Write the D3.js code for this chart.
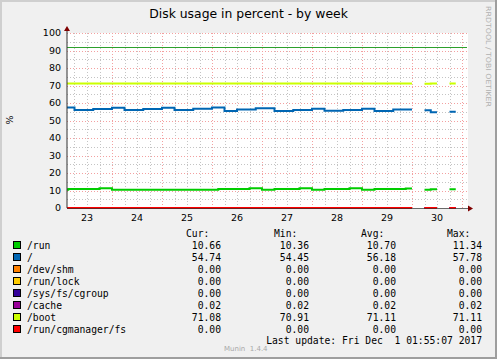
<!DOCTYPE html>
<html>
<head>
<meta charset="utf-8">
<script src="https://cdn.jsdelivr.net/npm/d3@7"></script>
<style>
  body { margin: 0; background: #f0f0f0; }
  svg { display: block; }
  .lbl { font-family: "DejaVu Sans", sans-serif; fill: #000; }
  .mono { font-family: "DejaVu Sans Mono", monospace; font-size: 9.7px; fill: #000; }
</style>
</head>
<body>
<svg id="chart" width="497" height="359"></svg>
<script>
// samples every 3 hours starting Thu Nov 23 2017 00:00
const sampleStart = Date.UTC(2017, 10, 23, 0, 0);
const stepHours = 3;

const names = ["/run", "/", "/dev/shm", "/run/lock", "/sys/fs/cgroup", "/cache", "/boot", "/run/cgmanager/fs"];
const colors = ["#00cc00", "#0066b3", "#ff8000", "#ffcc00", "#330099", "#990099", "#ccff00", "#ff0000"];
const curVals = ["10.66", "54.74", "0.00", "0.00", "0.00", "0.02", "71.08", "0.00"];
const minVals = ["10.36", "54.45", "0.00", "0.00", "0.00", "0.02", "70.91", "0.00"];
const avgVals = ["10.70", "56.18", "0.00", "0.00", "0.00", "0.02", "71.11", "0.00"];
const maxVals = ["11.34", "57.78", "0.00", "0.00", "0.00", "0.02", "71.11", "0.00"];

const runVals = [
  10.4, 10.8, 10.8, 10.8, 10.8, 10.8, 11.3, 11.3,
  10.4, 10.4, 10.4, 10.4, 10.4, 10.4, 10.4, 10.4,
  10.4, 10.4, 10.4, 10.4, 10.4, 10.4, 10.4, 10.4,
  10.4, 10.8, 10.8, 10.8, 10.8, 10.8, 11.3, 11.3,
  10.4, 10.4, 10.8, 10.8, 10.8, 10.8, 11.3, 11.3,
  10.4, 10.4, 10.8, 10.8, 10.8, 10.8, 11.3, 11.3,
  10.4, 10.4, 10.8, 10.8, 10.8, 10.8, 10.8, 11.2,
  null, null, 10.4, 10.7, null, null, 10.7, null
];
const rootVals = [
  57.5, 57.5, 56.0, 56.0, 56.0, 56.6, 56.6, 56.6,
  57.3, 57.3, 56.0, 56.0, 56.0, 56.6, 56.6, 56.6,
  57.3, 57.3, 56.0, 56.0, 56.0, 56.7, 56.7, 56.7,
  57.5, 57.5, 55.4, 55.4, 56.3, 56.3, 56.3, 57.0,
  57.0, 57.0, 55.4, 55.4, 55.4, 56.0, 56.0, 56.0,
  56.7, 56.7, 55.6, 55.6, 55.6, 56.0, 56.0, 56.0,
  56.7, 56.7, 55.4, 55.4, 55.4, 56.3, 56.3, 56.3,
  null, null, 55.8, 54.7, null, null, 55.0, null
];
const bootVals = [
  71.1, 71.1, 71.1, 71.1, 71.1, 71.1, 71.1, 71.1,
  71.1, 71.1, 71.1, 71.1, 71.1, 71.1, 71.1, 71.1,
  71.1, 71.1, 71.1, 71.1, 71.1, 71.1, 71.1, 71.1,
  71.1, 71.1, 71.1, 71.1, 71.1, 71.1, 71.1, 71.1,
  71.1, 71.1, 71.1, 71.1, 71.1, 71.1, 71.1, 71.1,
  71.1, 71.1, 71.1, 71.1, 71.1, 71.1, 71.1, 71.1,
  71.1, 71.1, 71.1, 71.1, 71.1, 71.1, 71.1, 71.1,
  null, null, 71.0, 71.1, null, null, 71.1, null
];
const cacheVals = [
  0.02, 0.02, 0.02, 0.02, 0.02, 0.02, 0.02, 0.02,
  0.02, 0.02, 0.02, 0.02, 0.02, 0.02, 0.02, 0.02,
  0.02, 0.02, 0.02, 0.02, 0.02, 0.02, 0.02, 0.02,
  0.02, 0.02, 0.02, 0.02, 0.02, 0.02, 0.02, 0.02,
  0.02, 0.02, 0.02, 0.02, 0.02, 0.02, 0.02, 0.02,
  0.02, 0.02, 0.02, 0.02, 0.02, 0.02, 0.02, 0.02,
  0.02, 0.02, 0.02, 0.02, 0.02, 0.02, 0.02, 0.02,
  null, null, 0.02, 0.02, null, null, 0.02, null
];
// /dev/shm, /run/lock, /sys/fs/cgroup, /run/cgmanager/fs all read 0
const zeroVals = [
  0, 0, 0, 0, 0, 0, 0, 0,
  0, 0, 0, 0, 0, 0, 0, 0,
  0, 0, 0, 0, 0, 0, 0, 0,
  0, 0, 0, 0, 0, 0, 0, 0,
  0, 0, 0, 0, 0, 0, 0, 0,
  0, 0, 0, 0, 0, 0, 0, 0,
  0, 0, 0, 0, 0, 0, 0, 0,
  null, null, 0, 0, null, null, 0, null
];
const seriesVals = [runVals, rootVals, zeroVals, zeroVals, zeroVals, cacheVals, bootVals, zeroVals];

const yTicks = [0, 10, 20, 30, 40, 50, 60, 70, 80, 90, 100];
const warnLevel = 92;

const svg = d3.select("#chart");
const W = 497, H = 359;
const plotL = 67, plotR = 467, plotT = 33, plotB = 208;

const x = d3.scaleUtc()
  .domain([Date.UTC(2017, 10, 23, 2, 24), Date.UTC(2017, 11, 1, 2, 24)])
  .range([plotL, plotR]);
const y = d3.scaleLinear().domain([0, 100]).range([plotB, plotT]);

// canvas + frame
svg.append("rect").attr("width", W).attr("height", H).attr("fill", "#f0f0f0");
svg.append("rect").attr("x", 0).attr("y", 0).attr("width", W).attr("height", 2).attr("fill", "#cfcfcf");
svg.append("rect").attr("x", 0).attr("y", 0).attr("width", 2).attr("height", H).attr("fill", "#cfcfcf");
svg.append("rect").attr("x", 0).attr("y", H - 2).attr("width", W).attr("height", 2).attr("fill", "#9e9e9e");
svg.append("rect").attr("x", W - 2).attr("y", 0).attr("width", 2).attr("height", H).attr("fill", "#9e9e9e");

svg.append("rect")
  .attr("x", plotL).attr("y", plotT)
  .attr("width", plotR - plotL + 1).attr("height", plotB - plotT)
  .attr("fill", "#fff");

// grid
const grid = svg.append("g").attr("shape-rendering", "crispEdges");
const minorY = d3.range(0, 101, 5).filter(v => v % 10 !== 0);
grid.selectAll(".hmin").data(minorY).enter().append("line")
  .attr("x1", plotL).attr("x2", plotR)
  .attr("y1", d => Math.round(y(d)) + 0.5).attr("y2", d => Math.round(y(d)) + 0.5)
  .attr("stroke", "#c4c4c4").attr("stroke-dasharray", "1,2");
const minorX = x.ticks(d3.utcHour.every(6)).filter(d => d.getUTCHours() !== 0);
grid.selectAll(".vmin").data(minorX).enter().append("line")
  .attr("x1", d => Math.round(x(d)) + 0.5).attr("x2", d => Math.round(x(d)) + 0.5)
  .attr("y1", plotT).attr("y2", plotB)
  .attr("stroke", "#c4c4c4").attr("stroke-dasharray", "1,2");
grid.selectAll(".hmaj").data(yTicks.filter(v => v > 0)).enter().append("line")
  .attr("x1", plotL).attr("x2", plotR)
  .attr("y1", d => Math.round(y(d)) + 0.5).attr("y2", d => Math.round(y(d)) + 0.5)
  .attr("stroke", "#f3a0a0").attr("stroke-dasharray", "1,2");
const days = x.ticks(d3.utcDay.every(1));
grid.selectAll(".vmaj").data(days).enter().append("line")
  .attr("x1", d => Math.round(x(d)) + 0.5).attr("x2", d => Math.round(x(d)) + 0.5)
  .attr("y1", plotT).attr("y2", plotB)
  .attr("stroke", "#f3a0a0").attr("stroke-dasharray", "1,2");

// warning line
svg.append("line")
  .attr("x1", plotL).attr("x2", plotR)
  .attr("y1", Math.round(y(warnLevel)) + 0.5).attr("y2", Math.round(y(warnLevel)) + 0.5)
  .attr("stroke", "#2ca02c").attr("shape-rendering", "crispEdges");

// series
svg.append("clipPath").attr("id", "plot")
  .append("rect").attr("x", plotL).attr("y", plotT - 5).attr("width", plotR - plotL).attr("height", plotB - plotT + 10);

const t = i => new Date(sampleStart + i * stepHours * 3600e3);
function stepPoints(vals) {
  const pts = [];
  vals.forEach((v, i) => {
    if (v == null) { pts.push({ t: t(i), v: null }); return; }
    pts.push({ t: t(i), v: v }, { t: t(i + 1), v: v });
  });
  return pts;
}
const line = d3.line()
  .defined(d => d.v != null)
  .x(d => x(d.t))
  .y(d => y(d.v));

const lines = svg.append("g").attr("clip-path", "url(#plot)");
seriesVals.forEach((vals, k) => {
  lines.append("path")
    .attr("d", line(stepPoints(vals)))
    .attr("fill", "none")
    .attr("stroke", colors[k])
    .attr("stroke-width", 2);
});

// axes
svg.append("line").attr("x1", plotL).attr("x2", plotL).attr("y1", plotB).attr("y2", 29)
  .attr("stroke", "#303030").attr("stroke-width", 1);
svg.append("line").attr("x1", plotL).attr("x2", 469).attr("y1", plotB + 0.5).attr("y2", plotB + 0.5)
  .attr("stroke", "#303030").attr("stroke-width", 1).attr("opacity", 0.7);
svg.append("path").attr("d", "M64,31L67,26L70,31Z").attr("fill", "#7f0000");
svg.append("path").attr("d", "M468,205.5L473,208.5L468,211.5Z").attr("fill", "#7f0000");

svg.selectAll(".ylab").data(yTicks).enter().append("text")
  .attr("class", "lbl")
  .attr("x", 61).attr("y", d => y(d)).attr("dy", "0.36em")
  .attr("text-anchor", "end").attr("font-size", "9.5px")
  .text(d => d);

const noons = days.map(d => d3.utcHour.offset(d, -12)).concat([d3.utcHour.offset(days[days.length - 1], 12)]);
svg.selectAll(".xlab").data(noons.filter(d => x(d) > plotL && x(d) < plotR)).enter().append("text")
  .attr("class", "lbl")
  .attr("x", d => x(d)).attr("y", 221)
  .attr("text-anchor", "middle").attr("font-size", "9.5px")
  .text(d3.utcFormat("%d"));

svg.append("text").attr("class", "lbl")
  .attr("transform", "translate(13,120) rotate(-90)")
  .attr("text-anchor", "middle").attr("font-size", "9.5px")
  .text("%");

svg.append("text").attr("class", "lbl")
  .attr("x", 248.5).attr("y", 18)
  .attr("text-anchor", "middle").attr("font-size", "12.4px")
  .text("Disk usage in percent - by week");

svg.append("text").attr("class", "lbl")
  .attr("transform", "translate(486,6) rotate(90)")
  .attr("font-size", "7px").style("fill", "#b0b0b0")
  .attr("textLength", 101).attr("lengthAdjust", "spacingAndGlyphs")
  .text("RRDTOOL / TOBI OETIKER");

// legend
const legend = svg.append("g");
const heads = [["Cur:", 186], ["Min:", 274], ["Avg:", 361], ["Max:", 447]];
legend.selectAll(".head").data(heads).enter().append("text")
  .attr("class", "mono").attr("x", d => d[1]).attr("y", 237).text(d => d[0]);

const rowY = i => 249 + i * 12;
names.forEach((n, i) => {
  legend.append("rect")
    .attr("x", 13.5).attr("y", rowY(i) - 7.5).attr("width", 7).attr("height", 7)
    .attr("fill", colors[i]).attr("stroke", "#000").attr("stroke-width", 1);
  legend.append("text").attr("class", "mono").attr("x", 27).attr("y", rowY(i)).text(n);
  [[curVals, 221], [minVals, 309], [avgVals, 396], [maxVals, 482]].forEach(([arr, xr]) => {
    legend.append("text").attr("class", "mono")
      .attr("x", xr).attr("y", rowY(i)).attr("text-anchor", "end").text(arr[i]);
  });
});

legend.append("text").attr("class", "mono")
  .attr("x", 482).attr("y", 344).attr("text-anchor", "end")
  .style("white-space", "pre")
  .text("Last update: Fri Dec  1 01:55:07 2017");

svg.append("text").attr("class", "lbl")
  .attr("x", 224).attr("y", 351).attr("font-size", "7px").style("fill", "#a8a8a8")
  .style("white-space", "pre")
  .text("Munin  1.4.4");
</script>
</body>
</html>
